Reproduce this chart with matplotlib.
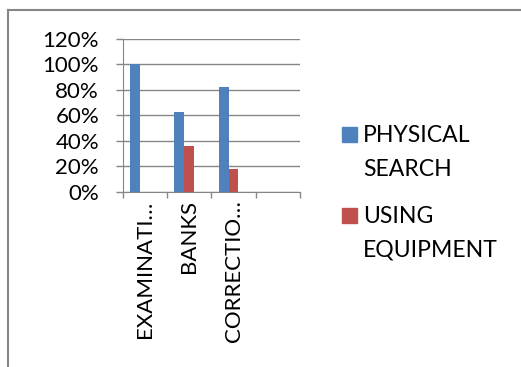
import matplotlib.pyplot as plt
from matplotlib.patches import Rectangle
from matplotlib.lines import Line2D
import numpy as np

categories = ['EXAMINATI…', 'BANKS', 'CORRECTIO…', '']
physical = [1.00, 0.63, 0.82, np.nan]
equipment = [0.0, 0.36, 0.18, np.nan]
series_names = ['PHYSICAL\nSEARCH', 'USING\nEQUIPMENT']
colors = ['#4F81BD', '#C0504D']
yticks = [0, 0.2, 0.4, 0.6, 0.8, 1.0, 1.2]

plt.rcParams['font.family'] = ['Lato', 'DejaVu Sans']
W, H = 521, 367
fig = plt.figure(figsize=(W / 100, H / 100), dpi=100)
ax = fig.add_axes([122.7 / W, 1 - 192 / H, (300 - 122.7) / W, (192 - 39) / H])

x = np.arange(len(categories)) + 0.5
w = 1 / 4.5  # 3 series slots + 150% gap
ax.bar(x - w, physical, w, color=colors[0])
ax.bar(x, equipment, w, color=colors[1])

ax.set_xlim(0, len(categories))
ax.set_ylim(0, 1.2)
ax.set_yticks(yticks)
ax.set_yticklabels([f'{int(round(t * 100))}%' for t in yticks])
ax.yaxis.grid(True, color='#868686', lw=1)
ax.set_axisbelow(True)

ax.set_xticks(x)
ax.set_xticklabels(categories, rotation=90, va='top')
ax.set_xticks(np.arange(len(categories) + 1), minor=True)
ax.tick_params(axis='x', which='major', length=0, pad=6, labelsize=16)
ax.tick_params(axis='x', which='minor', length=4, color='#868686', width=1)
ax.tick_params(axis='y', length=5, color='#868686', width=1, pad=12, labelsize=16)
for s in ['top', 'right']:
    ax.spines[s].set_visible(False)
for s in ['left', 'bottom']:
    ax.spines[s].set_color('#868686')

# legend drawn by hand so the square sits beside the first line
tops = [125, 206]
for name, c, t in zip(series_names, colors, tops):
    fig.patches.append(Rectangle((342 / W, 1 - (t + 17) / H), 15 / W, 15 / H,
                                 transform=fig.transFigure, color=c))
    fig.text(363 / W, 1 - t / H, name, fontsize=16.6, va='top', linespacing=1.75)

# chart frame (only top and left visible)
fig.add_artist(Line2D([8 / W, 1], [1 - 9.5 / H] * 2, transform=fig.transFigure,
                      color='#868686', lw=1.5))
fig.add_artist(Line2D([8 / W] * 2, [0, 1 - 9.5 / H], transform=fig.transFigure,
                      color='#868686', lw=1.5))

fig.savefig('out.png', dpi=100)
